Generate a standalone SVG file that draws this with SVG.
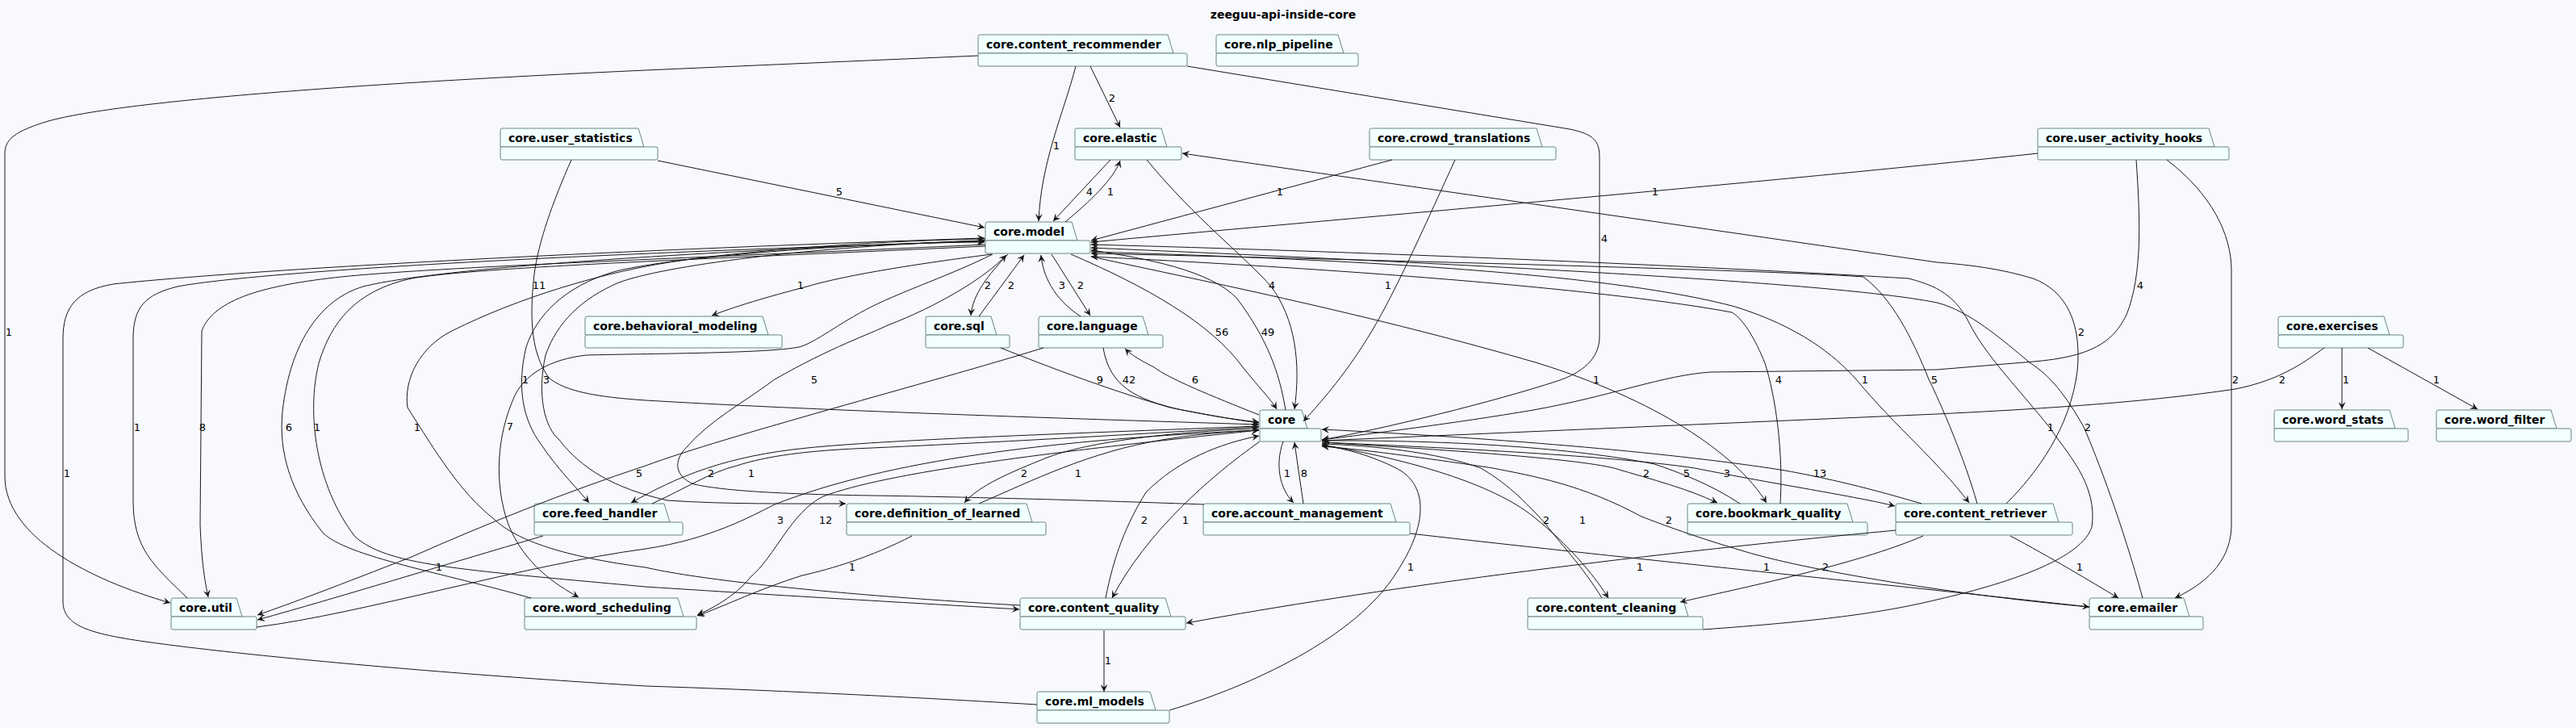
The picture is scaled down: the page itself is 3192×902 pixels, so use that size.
<svg xmlns="http://www.w3.org/2000/svg" width="3192" height="902" viewBox="0 0 3192 902">
<style>
.tab,.body{fill:#F1FFFF;stroke:#6B8580;stroke-width:1}
.nl{font-family:"DejaVu Sans","Liberation Sans",sans-serif;font-size:14px;font-weight:bold;fill:#000}
.ttl{font-family:"DejaVu Sans","Liberation Sans",sans-serif;font-size:14px;font-weight:bold;fill:#000;text-anchor:middle}
.e{fill:none;stroke:#181818;stroke-width:1}
.el{font-family:"DejaVu Sans","Liberation Sans",sans-serif;font-size:13px;fill:#000;text-anchor:middle}
</style>
<defs>
<marker id="a" viewBox="0 0 10 10" markerWidth="10" markerHeight="9" refX="10" refY="5" orient="auto" markerUnits="userSpaceOnUse">
<path d="M0,0 L10,5 L0,10 L4,5 Z" fill="#181818"/>
</marker>
</defs>
<rect width="3192" height="902" fill="#F8F9FD"/>
<text class="ttl" x="1590" y="23">zeeguu-api-inside-core</text>
<g id="nodes">
<g id="n-content_recommender"><path class="tab" d="M1212,66 L1212,45.5 Q1212,43 1214.5,43 L1447,43 L1454,66 Z"/><rect class="body" x="1212" y="66" width="259" height="16" rx="2"/><text class="nl" x="1222" y="60">core.content_recommender</text></g>
<g id="n-nlp_pipeline"><path class="tab" d="M1507,66 L1507,45.5 Q1507,43 1509.5,43 L1658,43 L1665,66 Z"/><rect class="body" x="1507" y="66" width="176" height="16" rx="2"/><text class="nl" x="1517" y="60">core.nlp_pipeline</text></g>
<g id="n-user_statistics"><path class="tab" d="M620,182 L620,161.5 Q620,159 622.5,159 L791,159 L798,182 Z"/><rect class="body" x="620" y="182" width="195" height="16" rx="2"/><text class="nl" x="630" y="176">core.user_statistics</text></g>
<g id="n-elastic"><path class="tab" d="M1332,182 L1332,161.5 Q1332,159 1334.5,159 L1439,159 L1446,182 Z"/><rect class="body" x="1332" y="182" width="132" height="16" rx="2"/><text class="nl" x="1342" y="176">core.elastic</text></g>
<g id="n-crowd_translations"><path class="tab" d="M1697,182 L1697,161.5 Q1697,159 1699.5,159 L1904,159 L1911,182 Z"/><rect class="body" x="1697" y="182" width="231" height="16" rx="2"/><text class="nl" x="1707" y="176">core.crowd_translations</text></g>
<g id="n-user_activity_hooks"><path class="tab" d="M2525,182 L2525,161.5 Q2525,159 2527.5,159 L2737,159 L2744,182 Z"/><rect class="body" x="2525" y="182" width="237" height="16" rx="2"/><text class="nl" x="2535" y="176">core.user_activity_hooks</text></g>
<g id="n-model"><path class="tab" d="M1221,298 L1221,277.5 Q1221,275 1223.5,275 L1328,275 L1335,298 Z"/><rect class="body" x="1221" y="298" width="130" height="16" rx="2"/><text class="nl" x="1231" y="292">core.model</text></g>
<g id="n-behavioral_modeling"><path class="tab" d="M725,415 L725,394.5 Q725,392 727.5,392 L945,392 L952,415 Z"/><rect class="body" x="725" y="415" width="244" height="16" rx="2"/><text class="nl" x="735" y="409">core.behavioral_modeling</text></g>
<g id="n-sql"><path class="tab" d="M1147,415 L1147,394.5 Q1147,392 1149.5,392 L1228,392 L1235,415 Z"/><rect class="body" x="1147" y="415" width="104" height="16" rx="2"/><text class="nl" x="1157" y="409">core.sql</text></g>
<g id="n-language"><path class="tab" d="M1287,415 L1287,394.5 Q1287,392 1289.5,392 L1416,392 L1423,415 Z"/><rect class="body" x="1287" y="415" width="154" height="16" rx="2"/><text class="nl" x="1297" y="409">core.language</text></g>
<g id="n-exercises"><path class="tab" d="M2823,415 L2823,394.5 Q2823,392 2825.5,392 L2954,392 L2961,415 Z"/><rect class="body" x="2823" y="415" width="155" height="16" rx="2"/><text class="nl" x="2833" y="409">core.exercises</text></g>
<g id="n-core"><path class="tab" d="M1561,531 L1561,510.5 Q1561,508 1563.5,508 L1613,508 L1620,531 Z"/><rect class="body" x="1561" y="531" width="76" height="16" rx="2"/><text class="nl" x="1571" y="525">core</text></g>
<g id="n-word_stats"><path class="tab" d="M2818,531 L2818,510.5 Q2818,508 2820.5,508 L2961,508 L2968,531 Z"/><rect class="body" x="2818" y="531" width="166" height="16" rx="2"/><text class="nl" x="2828" y="525">core.word_stats</text></g>
<g id="n-word_filter"><path class="tab" d="M3019,531 L3019,510.5 Q3019,508 3021.5,508 L3161,508 L3168,531 Z"/><rect class="body" x="3019" y="531" width="167" height="16" rx="2"/><text class="nl" x="3029" y="525">core.word_filter</text></g>
<g id="n-feed_handler"><path class="tab" d="M662,647 L662,626.5 Q662,624 664.5,624 L823,624 L830,647 Z"/><rect class="body" x="662" y="647" width="184" height="16" rx="2"/><text class="nl" x="672" y="641">core.feed_handler</text></g>
<g id="n-definition_of_learned"><path class="tab" d="M1049,647 L1049,626.5 Q1049,624 1051.5,624 L1272,624 L1279,647 Z"/><rect class="body" x="1049" y="647" width="247" height="16" rx="2"/><text class="nl" x="1059" y="641">core.definition_of_learned</text></g>
<g id="n-account_management"><path class="tab" d="M1491,647 L1491,626.5 Q1491,624 1493.5,624 L1723,624 L1730,647 Z"/><rect class="body" x="1491" y="647" width="256" height="16" rx="2"/><text class="nl" x="1501" y="641">core.account_management</text></g>
<g id="n-bookmark_quality"><path class="tab" d="M2091,647 L2091,626.5 Q2091,624 2093.5,624 L2289,624 L2296,647 Z"/><rect class="body" x="2091" y="647" width="223" height="16" rx="2"/><text class="nl" x="2101" y="641">core.bookmark_quality</text></g>
<g id="n-content_retriever"><path class="tab" d="M2349,647 L2349,626.5 Q2349,624 2351.5,624 L2544,624 L2551,647 Z"/><rect class="body" x="2349" y="647" width="219" height="16" rx="2"/><text class="nl" x="2359" y="641">core.content_retriever</text></g>
<g id="n-util"><path class="tab" d="M212,764 L212,743.5 Q212,741 214.5,741 L293,741 L300,764 Z"/><rect class="body" x="212" y="764" width="106" height="16" rx="2"/><text class="nl" x="222" y="758">core.util</text></g>
<g id="n-word_scheduling"><path class="tab" d="M650,764 L650,743.5 Q650,741 652.5,741 L840,741 L847,764 Z"/><rect class="body" x="650" y="764" width="213" height="16" rx="2"/><text class="nl" x="660" y="758">core.word_scheduling</text></g>
<g id="n-content_quality"><path class="tab" d="M1264,764 L1264,743.5 Q1264,741 1266.5,741 L1444,741 L1451,764 Z"/><rect class="body" x="1264" y="764" width="205" height="16" rx="2"/><text class="nl" x="1274" y="758">core.content_quality</text></g>
<g id="n-content_cleaning"><path class="tab" d="M1893,764 L1893,743.5 Q1893,741 1895.5,741 L2085,741 L2092,764 Z"/><rect class="body" x="1893" y="764" width="217" height="16" rx="2"/><text class="nl" x="1903" y="758">core.content_cleaning</text></g>
<g id="n-emailer"><path class="tab" d="M2589,764 L2589,743.5 Q2589,741 2591.5,741 L2706,741 L2713,764 Z"/><rect class="body" x="2589" y="764" width="141" height="16" rx="2"/><text class="nl" x="2599" y="758">core.emailer</text></g>
<g id="n-ml_models"><path class="tab" d="M1285,880 L1285,859.5 Q1285,857 1287.5,857 L1425,857 L1432,880 Z"/><rect class="body" x="1285" y="880" width="164" height="16" rx="2"/><text class="nl" x="1295" y="874">core.ml_models</text></g>
</g>
<g id="connectors" marker-end="url(#a)">
<path class="e" marker-end="url(#a)" d="M1212,69 L800,87 C450,103 150,125 60,150 C20,162 6,172 6,190 L6,590 C6,665 110,718 211,747"/><text class="el" x="11" y="416">1</text>
<path class="e" marker-end="url(#a)" d="M1333,82 C1318,140 1290,200 1287,274"/><text class="el" x="1309" y="185">1</text>
<path class="e" marker-end="url(#a)" d="M1351,82 L1388,158"/><text class="el" x="1378" y="126">2</text>
<path class="e" marker-end="url(#a)" d="M1471,82 L1945,160 C1975,166 1982,175 1982,195 L1982,417 C1982,445 1960,462 1930,472 C1850,498 1720,530 1638,545"/><text class="el" x="1988" y="300">4</text>
<path class="e" marker-end="url(#a)" d="M815,199 L1220,282"/><text class="el" x="1040" y="242">5</text>
<path class="e" marker-end="url(#a)" d="M708,198 C685,250 667,300 662,340 C655,400 660,440 680,468 C700,485 740,492 800,496 C1000,508 1300,518 1560,526"/><text class="el" x="668" y="358">11</text>
<path class="e" marker-end="url(#a)" d="M1376,198 L1305,274"/><text class="el" x="1350" y="242">4</text>
<path class="e" marker-end="url(#a)" d="M1320,275 C1350,250 1380,222 1388,199"/><text class="el" x="1376" y="242">1</text>
<path class="e" marker-end="url(#a)" d="M1725,198 L1352,298"/><text class="el" x="1586" y="242">1</text>
<path class="e" marker-end="url(#a)" d="M1803,198 C1770,270 1730,360 1700,410 C1670,460 1640,495 1615,522"/><text class="el" x="1720" y="358">1</text>
<path class="e" marker-end="url(#a)" d="M2525,190 C2200,225 1700,268 1352,300"/><text class="el" x="2051" y="242">1</text>
<path class="e" marker-end="url(#a)" d="M2647,198 C2652,270 2655,340 2635,390 C2618,425 2590,442 2520,448 L2400,458 L2120,461 C2060,465 2000,490 1900,508 C1800,525 1700,537 1638,545"/><text class="el" x="2652" y="358">4</text>
<path class="e" marker-end="url(#a)" d="M2685,198 C2740,240 2765,290 2765,335 L2765,650 C2765,690 2740,720 2695,741"/><text class="el" x="2770" y="475">2</text>
<path class="e" marker-end="url(#a)" d="M1229,315 C1150,325 1050,340 1000,355 C950,368 910,380 882,391"/><text class="el" x="992" y="358">1</text>
<path class="e" marker-end="url(#a)" d="M1249,315 C1225,340 1205,365 1203,391"/><text class="el" x="1224" y="358">2</text>
<path class="e" marker-end="url(#a)" d="M1213,392 L1269,316"/><text class="el" x="1253" y="358">2</text>
<path class="e" marker-end="url(#a)" d="M1339,392 C1305,370 1292,340 1290,316"/><text class="el" x="1316" y="358">3</text>
<path class="e" marker-end="url(#a)" d="M1303,315 L1351,391"/><text class="el" x="1339" y="358">2</text>
<path class="e" marker-end="url(#a)" d="M1327,315 C1420,355 1500,400 1540,455 C1560,480 1575,495 1582,507"/><text class="el" x="1514" y="416">56</text>
<path class="e" marker-end="url(#a)" d="M1593,508 C1585,460 1570,420 1533,370 C1500,335 1420,320 1352,310"/><text class="el" x="1571" y="416">49</text>
<path class="e" marker-end="url(#a)" d="M1421,198 C1480,270 1545,320 1575,355 C1605,395 1612,450 1604,507"/><text class="el" x="1576" y="358">4</text>
<path class="e" marker-end="url(#a)" d="M1352,318 C1500,350 1700,390 1906,450 C2050,495 2150,560 2189,623"/><text class="el" x="1978" y="475">1</text>
<path class="e" marker-end="url(#a)" d="M1352,312 C1700,322 2000,340 2150,380 C2230,405 2273,440 2300,470 C2350,530 2400,570 2440,623"/><text class="el" x="2311" y="475">1</text>
<path class="e" marker-end="url(#a)" d="M2450,624 C2435,570 2405,500 2390,470 C2370,420 2345,370 2309,343 C2200,335 1700,322 1352,314"/><text class="el" x="2397" y="475">5</text>
<path class="e" marker-end="url(#a)" d="M2206,624 C2210,560 2200,490 2187,450 C2175,420 2160,395 2146,387 C2000,360 1700,335 1352,318"/><text class="el" x="2204" y="475">4</text>
<path class="e" marker-end="url(#a)" d="M2486,624 C2525,585 2565,530 2574,460 C2580,400 2560,360 2519,345 C2480,333 2440,328 2400,325 L1465,190"/><text class="el" x="2579" y="416">2</text>
<path class="e" marker-end="url(#a)" d="M2880,431 C2860,445 2830,470 2770,482 C2650,500 2500,508 2400,513 L1638,546"/><text class="el" x="2828" y="475">2</text>
<path class="e" marker-end="url(#a)" d="M2902,431 L2902,507"/><text class="el" x="2907" y="475">1</text>
<path class="e" marker-end="url(#a)" d="M2934,431 L3070,507"/><text class="el" x="3019" y="475">1</text>
<path class="e" marker-end="url(#a)" d="M2110,780 C2250,770 2330,760 2400,743 C2500,720 2580,690 2592,653 C2600,600 2560,560 2540,530 C2500,480 2460,440 2440,400 C2420,360 2390,352 2365,345 C2200,335 1800,315 1352,303"/><text class="el" x="2541" y="534">1</text>
<path class="e" marker-end="url(#a)" d="M2655,741 C2630,650 2600,570 2582,529 C2560,490 2540,465 2516,450 C2480,420 2440,385 2400,375 C2300,355 2000,335 1352,307"/><text class="el" x="2587" y="534">2</text>
<path class="e" marker-end="url(#a)" d="M232,741 C190,700 165,680 165,620 L165,420 C165,380 180,365 220,355 C300,340 600,318 1220,299"/><text class="el" x="170" y="534">1</text>
<path class="e" marker-end="url(#a)" d="M1221,303 C900,318 550,330 423,343 C330,353 265,370 250,410 L248,650 C250,700 254,720 258,740"/><text class="el" x="251" y="534">8</text>
<path class="e" marker-end="url(#a)" d="M658,741 C550,710 430,690 400,660 C360,610 345,560 350,510 C360,420 400,370 450,355 C550,330 900,310 1220,298"/><text class="el" x="358" y="534">6</text>
<path class="e" marker-end="url(#a)" d="M1221,305 C900,320 600,330 510,345 C440,360 410,400 395,450 C380,510 390,600 440,665 C480,700 560,705 800,727 C1000,740 1150,748 1263,755"/><text class="el" x="393" y="534">1</text>
<path class="e" marker-end="url(#a)" d="M1264,750 C1000,735 850,715 800,703 C700,690 640,670 612,643 C570,610 540,560 505,505 C500,470 520,430 560,410 C640,370 750,335 850,322 C1000,305 1150,300 1220,300"/><text class="el" x="517" y="534">1</text>
<path class="e" marker-end="url(#a)" d="M1230,315 C1180,340 1120,360 1080,380 C1040,400 1010,425 990,430 C950,438 800,438 727,440 C680,445 650,465 638,490 C615,540 612,600 630,650 C650,700 690,725 717,740"/><text class="el" x="632" y="533">7</text>
<path class="e" marker-end="url(#a)" d="M1221,296 C1000,300 800,325 760,337 C700,355 665,390 652,430 C640,480 648,520 670,550 C690,580 715,605 730,623"/><text class="el" x="651" y="475">1</text>
<path class="e" marker-end="url(#a)" d="M1221,298 C1000,305 820,330 767,350 C720,370 690,400 676,440 C665,490 675,530 693,545 C720,580 760,605 827,620 C900,625 980,624 1048,624"/><text class="el" x="677" y="475">3</text>
<path class="e" marker-end="url(#a)" d="M1285,873 C1100,862 950,855 800,850 C550,835 300,812 180,795 C110,785 78,775 78,745 L78,420 C78,380 95,360 140,352 C300,335 700,312 1220,295"/><text class="el" x="83" y="591">1</text>
<path class="e" marker-end="url(#a)" d="M1492,625 C1300,618 1150,615 1080,614 C950,612 893,607 860,600 C835,590 835,570 850,555 C880,520 920,500 960,470 C1030,430 1080,413 1100,403 C1160,380 1220,345 1247,316"/><text class="el" x="1009" y="475">5</text>
<path class="e" marker-end="url(#a)" d="M1240,431 C1300,455 1380,485 1450,505 C1500,515 1530,520 1560,523"/><text class="el" x="1363" y="475">9</text>
<path class="e" marker-end="url(#a)" d="M1367,431 C1375,480 1410,495 1460,507 C1500,515 1530,520 1560,524"/><text class="el" x="1399" y="475">42</text>
<path class="e" marker-end="url(#a)" d="M1560,514 C1500,490 1450,470 1430,455 C1410,445 1400,438 1394,432"/><text class="el" x="1481" y="475">6</text>
<path class="e" marker-end="url(#a)" d="M1293,431 C1150,475 900,540 800,577 C700,610 600,650 510,690 C420,725 360,748 319,762"/><text class="el" x="792" y="591">5</text>
<path class="e" marker-end="url(#a)" d="M1560,528 C1300,538 1100,545 1000,555 C900,565 840,590 782,623"/><text class="el" x="881" y="591">2</text>
<path class="e" marker-end="url(#a)" d="M808,624 C850,605 880,585 913,577 C950,565 1000,558 1080,555 C1300,545 1450,535 1560,529"/><text class="el" x="931" y="591">1</text>
<path class="e" marker-end="url(#a)" d="M1560,531 C1450,535 1340,548 1290,570 C1240,590 1210,605 1195,623"/><text class="el" x="1269" y="591">2</text>
<path class="e" marker-end="url(#a)" d="M1213,624 C1280,595 1350,560 1440,545 C1480,538 1520,535 1560,533"/><text class="el" x="1336" y="591">1</text>
<path class="e" marker-end="url(#a)" d="M1590,547 C1580,575 1585,605 1603,623"/><text class="el" x="1595" y="591">1</text>
<path class="e" marker-end="url(#a)" d="M1615,624 L1604,548"/><text class="el" x="1616" y="591">8</text>
<path class="e" marker-end="url(#a)" d="M1638,548 C1800,558 1950,568 2000,580 C2050,595 2090,605 2128,623"/><text class="el" x="2040" y="591">2</text>
<path class="e" marker-end="url(#a)" d="M2156,624 C2120,600 2080,585 2050,575 C1950,555 1800,545 1638,546"/><text class="el" x="2090" y="591">5</text>
<path class="e" marker-end="url(#a)" d="M1638,548 C1800,555 2000,565 2100,580 C2200,600 2300,615 2348,627"/><text class="el" x="2140" y="591">3</text>
<path class="e" marker-end="url(#a)" d="M2381,624 C2300,600 2250,590 2212,583 C2100,565 1900,545 1638,532"/><text class="el" x="2255" y="591">13</text>
<path class="e" marker-end="url(#a)" d="M318,777 C450,760 650,700 800,680 C880,668 930,640 960,625 C1100,570 1300,545 1560,533"/><text class="el" x="967" y="649">3</text>
<path class="e" marker-end="url(#a)" d="M1560,533 C1300,560 1100,585 1020,615 C980,635 960,690 930,715 C910,740 880,755 864,762"/><text class="el" x="1023" y="649">12</text>
<path class="e" marker-end="url(#a)" d="M1370,741 C1380,690 1395,650 1420,610 C1460,570 1510,550 1560,540"/><text class="el" x="1418" y="649">2</text>
<path class="e" marker-end="url(#a)" d="M1561,547 C1500,590 1420,660 1378,741"/><text class="el" x="1469" y="649">1</text>
<path class="e" marker-end="url(#a)" d="M1985,741 C1960,700 1930,670 1916,650 C1880,610 1860,595 1835,580 C1780,560 1700,552 1638,550"/><text class="el" x="1916" y="649">2</text>
<path class="e" marker-end="url(#a)" d="M1638,551 C1750,570 1850,600 1900,640 C1950,680 1980,720 1993,741"/><text class="el" x="1961" y="649">1</text>
<path class="e" marker-end="url(#a)" d="M2589,752 C2450,740 2250,710 2161,683 C2100,665 2060,650 2034,640 C1960,600 1900,590 1850,580 C1750,565 1680,556 1638,553"/><text class="el" x="2068" y="649">2</text>
<path class="e" marker-end="url(#a)" d="M673,664 C550,700 420,740 319,768"/><text class="el" x="544" y="707">1</text>
<path class="e" marker-end="url(#a)" d="M1130,664 C1080,690 1030,705 994,713 C940,730 900,750 864,763"/><text class="el" x="1056" y="707">1</text>
<path class="e" marker-end="url(#a)" d="M1449,880 C1550,850 1680,790 1730,710 C1770,650 1770,600 1730,580 C1700,565 1670,556 1638,552"/><text class="el" x="1748" y="707">1</text>
<path class="e" marker-end="url(#a)" d="M2349,657 C2000,690 1700,730 1470,772"/><text class="el" x="2032" y="707">1</text>
<path class="e" marker-end="url(#a)" d="M1747,661 C2000,690 2300,720 2589,752"/><text class="el" x="2189" y="707">1</text>
<path class="e" marker-end="url(#a)" d="M2383,664 C2300,700 2150,730 2082,746"/><text class="el" x="2262" y="707">2</text>
<path class="e" marker-end="url(#a)" d="M2491,664 C2540,690 2590,720 2625,741"/><text class="el" x="2577" y="707">1</text>
<path class="e" marker-end="url(#a)" d="M1368,781 L1368,857"/><text class="el" x="1373" y="823">1</text>
</g>
</svg>
